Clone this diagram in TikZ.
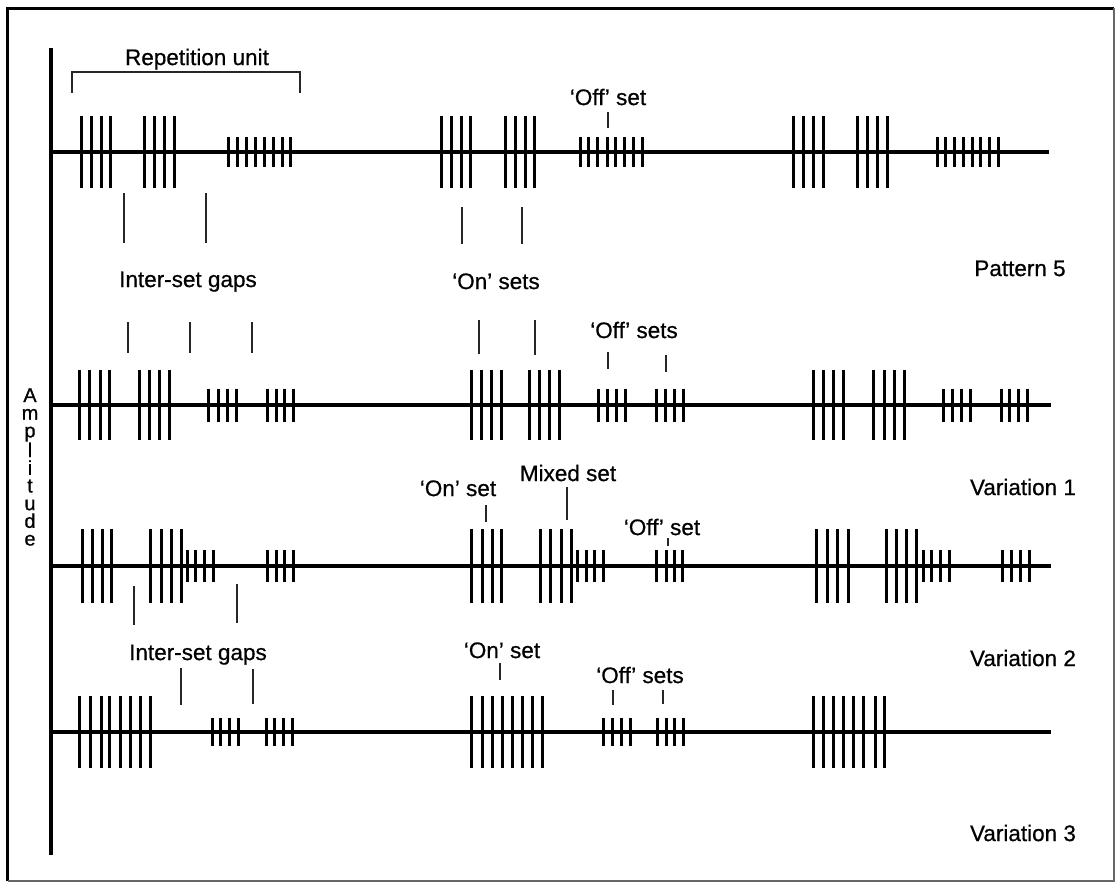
\documentclass[tikz,border=0pt]{standalone}
\usepackage{fontspec}
\setmainfont{Liberation Sans}
\newfontfamily\lblfont[FakeBold=0.6]{Liberation Sans}
\tikzset{
  base line/.style={line width=4.5pt},
  axis line/.style={line width=4pt},
  tick/.style={line width=3pt},
  marker/.style={line width=1.2pt, black!85},
  lbl/.style={inner sep=0pt, font=\lblfont\fontsize{22.5}{24}\selectfont, text height=16.1pt, text depth=0pt},
}
\newcommand\drawTall[3]{\foreach \xx in {#3} \draw[tick] (\xx,#1-#2) -- (\xx,#1+#2);}
\begin{document}
\begin{tikzpicture}[x=1pt,y=-1pt]
\useasboundingbox (0,0) rectangle (1117,883);
% frame
\draw[line width=3pt] (7.5,881) -- (7.5,8.5) -- (1114,8.5);
\draw[line width=1.2pt, black!60] (1114,8.5) -- (1114,881) -- (7.5,881);
% axis
\coordinate (axtop) at (51,48);
\coordinate (axbot) at (51,855);
\draw[axis line] (axtop) -- (axbot);
\node[inner sep=0pt, align=center, font=\lblfont\fontsize{20}{17.7}\selectfont] (amp) at (30,467) {A\\m\\p\\l\\i\\t\\u\\d\\e};
% baselines
\coordinate (r1a) at (51,152); \coordinate (r1b) at (1049,152);
\coordinate (r2a) at (51,405); \coordinate (r2b) at (1051,405);
\coordinate (r3a) at (51,566); \coordinate (r3b) at (1051,566);
\coordinate (r4a) at (51,732); \coordinate (r4b) at (1051,732);
\draw[base line] (r1a) -- (r1b);
\draw[base line] (r2a) -- (r2b);
\draw[base line] (r3a) -- (r3b);
\draw[base line] (r4a) -- (r4b);
% row 1 ticks
\drawTall{152}{36}{81,91,101,110,144,154,164,174,441,451,461,470,505,515,525,534,793,803,813,823,857,867,877,887}
\drawTall{152}{15}{228,237,246,255,264,273,282,290,580,588,597,607,615,624,633,642,937,945,954,963,972,980,989,998}
% row 2 ticks
\drawTall{405}{35}{79,89,100,109,139,149,159,169,471,481,491,501,529,539,549,559,813,823,833,843,873,884,894,904}
\drawTall{405}{16.5}{208,218,227,236,267,276,284,293,598,607,616,625,656,665,674,683,943,952,961,970,1001,1009,1018,1027}
% row 3 ticks
\drawTall{566}{37}{82,92,102,111,150,161,171,181,471,482,492,501,540,550,561,571,816,827,837,848,886,896,906,916}
\drawTall{566}{16}{187,195,204,213,267,276,284,293,577,586,594,603,656,666,674,682,923,931,940,949,1002,1011,1020,1029}
% row 4 ticks
\drawTall{732}{36}{79,90,101,109,120,130,140,150,471,482,492,502,512,522,532,542,813,823,833,843,853,863,875,884}
\drawTall{732}{14}{212,220,229,238,266,274,283,292,603,612,621,630,657,666,674,683}
% bracket
\coordinate (bra) at (72,93); \coordinate (brb) at (300,93);
\draw[marker] (bra) -- (72,72) -- (300,72) -- (brb);
% labels
\node[lbl] (rep) at (197,57) {Repetition unit};
\node[lbl] (off1) at (608,97) {‘Off’ set};
\node[lbl] (gaps1) at (188,279) {Inter-set gaps};
\node[lbl] (on1) at (496,281) {‘On’ sets};
\node[lbl] (pat5) at (1020,268) {Pattern 5};
\node[lbl] (off2) at (634,330) {‘Off’ sets};
\node[lbl] (on3) at (458,488) {‘On’ set};
\node[lbl] (mixed) at (568,473) {Mixed set};
\node[lbl] (var1) at (1023,487) {Variation 1};
\node[lbl] (off3) at (662,527) {‘Off’ set};
\node[lbl] (gaps4) at (198,652) {Inter-set gaps};
\node[lbl] (on4) at (502,650) {‘On’ set};
\node[lbl] (off4) at (640,675) {‘Off’ sets};
\node[lbl] (var2) at (1023,658) {Variation 2};
\node[lbl] (var3) at (1023,833) {Variation 3};
% markers
\draw[marker] (608,112) -- (608,128);
\draw[marker] (124,193) -- (124,243);
\draw[marker] (206,193) -- (206,243);
\draw[marker] (462,207) -- (462,244);
\draw[marker] (522,207) -- (522,244);
\draw[marker] (128,322) -- (128,353);
\draw[marker] (190,322) -- (190,353);
\draw[marker] (252,322) -- (252,353);
\draw[marker] (479,320) -- (479,354);
\draw[marker] (535,320) -- (535,355);
\draw[marker] (608,352) -- (608,369);
\draw[marker] (666,355) -- (666,372);
\draw[marker] (486,505) -- (486,522);
\draw[marker] (567,487) -- (567,520);
\draw[marker] (668,538) -- (668,546);
\draw[marker] (134,586) -- (134,625);
\draw[marker] (237,584) -- (237,623);
\draw[marker] (181,668) -- (181,705);
\draw[marker] (253,669) -- (253,704);
\draw[marker] (500,663) -- (500,680);
\draw[marker] (613,690) -- (613,705);
\draw[marker] (663,690) -- (663,704);
\end{tikzpicture}
\end{document}
